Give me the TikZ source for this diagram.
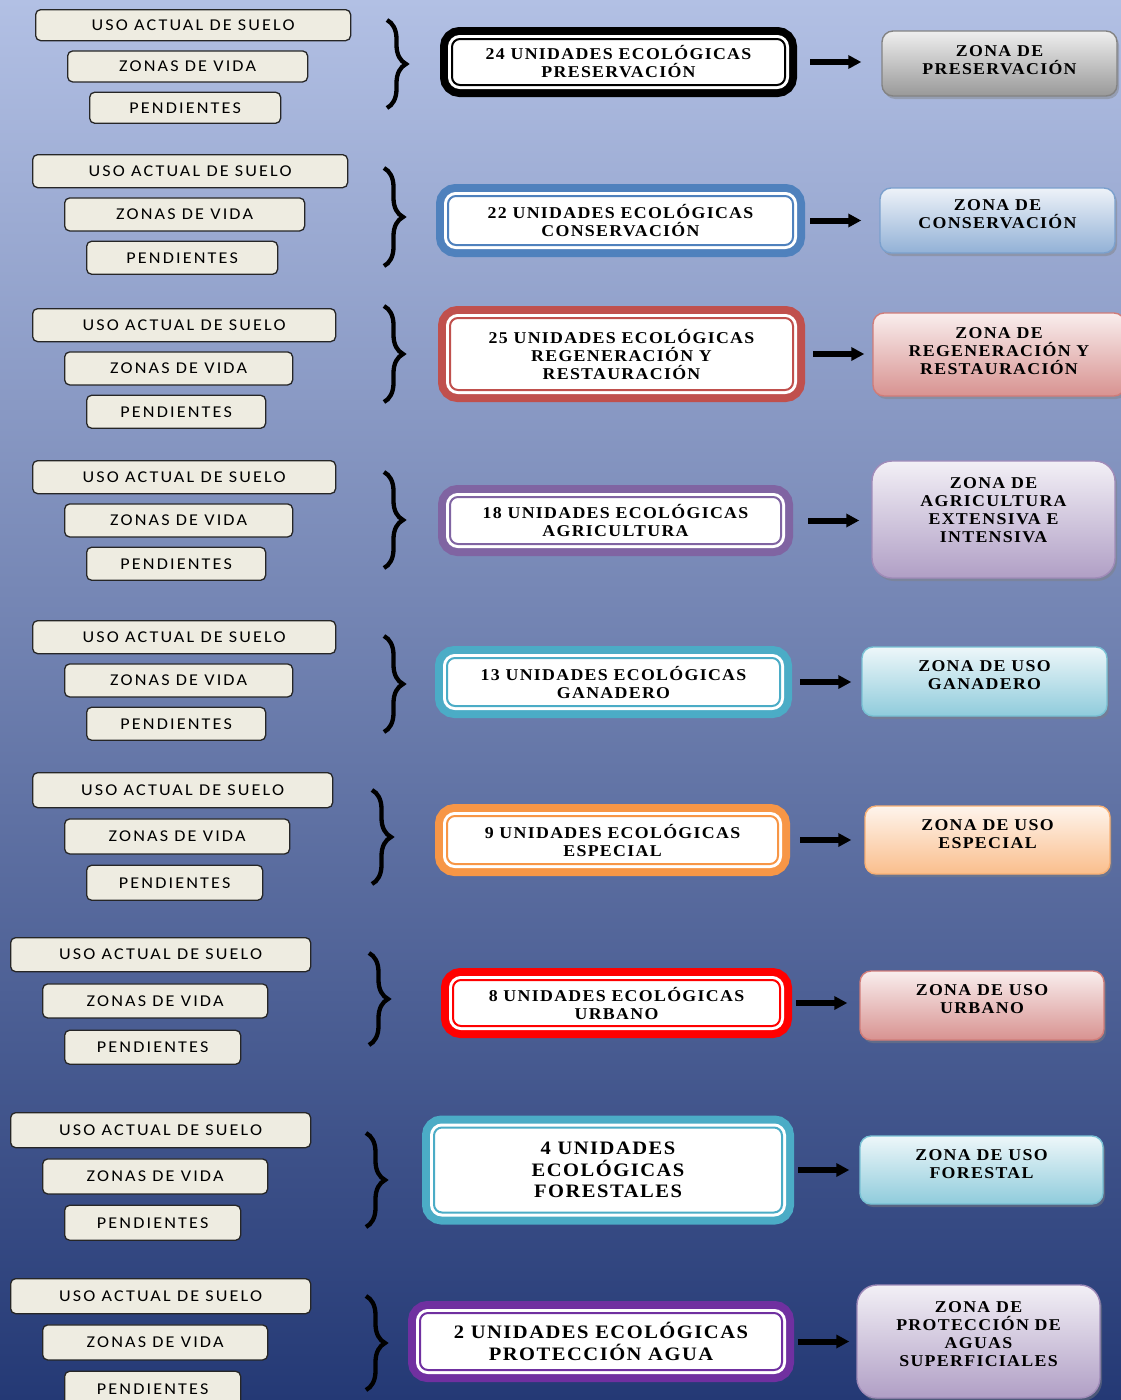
\documentclass[tikz,border=0pt]{standalone}
\usepackage{fontspec}
\setmainfont{Liberation Serif}
\newfontfamily\critfont[LetterSpace=13,FakeStretch=1.1]{Carlito}
\newfontfamily\unifont[LetterSpace=8,FakeStretch=1.08]{Liberation Serif}
\usetikzlibrary{arrows.meta,positioning,shadows,decorations.pathreplacing}
\definecolor{fondoA}{RGB}{178,192,228}
\definecolor{fondoB}{RGB}{114,134,186}
\definecolor{fondoC}{RGB}{36,57,117}
\definecolor{crema}{RGB}{238,236,225}
\definecolor{gris}{RGB}{90,90,90}
\definecolor{azulU}{RGB}{79,129,189}
\definecolor{rojoU}{RGB}{192,80,77}
\definecolor{moradoU}{RGB}{128,100,162}
\definecolor{aguaU}{RGB}{75,172,198}
\definecolor{naranjaU}{RGB}{247,150,70}
\definecolor{rojoV}{RGB}{255,0,0}
\definecolor{violetaU}{RGB}{112,48,160}
% the three criteria boxes: id, x, y (top left), width, height, gap
\newcommand{\criterios}[6]{
	\node[criterio, minimum width=#4, minimum height=#5, anchor=north west] (#1a) at (#2,#3) {USO ACTUAL DE SUELO};
	\node[criterio, minimum width=#4-75, minimum height=#5, below right=#6pt and 32pt of #1a.south west] (#1b) {ZONAS DE VIDA};
	\node[criterio, minimum width=#4-124, minimum height=#5, below right=#6pt and 22pt of #1b.south west] (#1c) {PENDIENTES};
	}
% the brace: x, top, bottom
\newcommand{\llave}[3]{
	\draw[llave] (#1,#2) -- (#1,#3);
	}

\begin{document}
\begin{tikzpicture}[
      x=1pt, y=-1pt,
      criterio/.style={draw=black!85, line width=1.3pt, fill=crema, rounded corners=5pt,
                       inner sep=0pt, font=\critfont\fontsize{16.5}{18}\selectfont},
      unidad/.style={draw=#1, line width=2pt, fill=white, rounded corners=8pt, align=center,
                     preaction={draw=#1, line width=24pt},
                     preaction={draw=white, line width=8pt},
                     font=\unifont\bfseries\fontsize{16.5}{18}\selectfont},
      zona/.style={draw=#1!75!white, line width=1.4pt, rounded corners=11pt, align=center,
                   top color=#1!10!white, bottom color=#1!62!white, text depth=12pt,
                   drop shadow={shadow xshift=2pt, shadow yshift=-3pt, opacity=.45},
                   font=\unifont\bfseries\fontsize{16.5}{18}\selectfont},
      grande/.style={font=\unifont\bfseries\fontsize{19}{21.5}\selectfont},
      flecha/.style={line width=6pt, -{Triangle[length=13pt,width=13pt]}},
      llave/.style={line width=4.3pt, decorate, decoration={brace, amplitude=19pt}}
    ]
    \useasboundingbox (0,0) rectangle (1121,1400);
    %background
    \fill[top color=fondoA, middle color=fondoB, bottom color=fondoC] (0,0) rectangle (1121,1400);
    % Preservacion
    \criterios{c1}{35}{9}{315}{31}{9}
    \llave{387}{20}{108}
    \node[unidad=black, minimum width=333, minimum height=46] (u1) at (618.5,62) {24 UNIDADES ECOLÓGICAS\\PRESERVACIÓN};
    \node[zona=gris, minimum width=235, minimum height=65, text depth=7pt] (z1) at (999.5,63.5) {ZONA DE\\PRESERVACIÓN};
    \draw[flecha, shorten <=24pt, shorten >=20pt] (u1.east) -- (u1.east -| z1.west);
    % Conservacion
    \criterios{c2}{32}{154}{315}{33}{9}
    \llave{384}{168}{266}
    \node[unidad=azulU, minimum width=345, minimum height=49] (u2) at (620.5,220.5) {22 UNIDADES ECOLÓGICAS\\CONSERVACIÓN};
    \node[zona=azulU, minimum width=235, minimum height=65] (z2) at (997.5,220.5) {ZONA DE\\CONSERVACIÓN};
    \draw[flecha, shorten <=16pt, shorten >=18pt] (u2.east) -- (u2.east -| z2.west);
    % Regeneracion
    \criterios{c3}{32}{308}{303}{33}{9}
    \llave{384}{306}{402}
    \node[unidad=rojoU, minimum width=343, minimum height=72] (u3) at (621.5,354) {25 UNIDADES ECOLÓGICAS\\REGENERACIÓN Y\\RESTAURACIÓN};
    \node[zona=rojoU, minimum width=252, minimum height=83, text depth=6pt] (z3) at (999,354.5) {ZONA DE\\REGENERACIÓN Y\\RESTAURACIÓN};
    \draw[flecha, shorten <=19pt, shorten >=8pt] (u3.east) -- (u3.east -| z3.west);
    % Agricultura
    \criterios{c4}{32}{460}{303}{33}{9}
    \llave{384}{472}{568}
    \node[unidad=moradoU, minimum width=331, minimum height=47] (u4) at (615.5,520.5) {18 UNIDADES ECOLÓGICAS\\AGRICULTURA};
    \node[zona=moradoU, rounded corners=20pt, minimum width=243, minimum height=117, text depth=19pt] (z4) at (993.5,519.5) {ZONA DE\\AGRICULTURA\\EXTENSIVA E\\INTENSIVA};
    \draw[flecha, shorten <=26pt, shorten >=12pt] (u4.east) -- (u4.east -| z4.west);
    % Ganadero
    \criterios{c5}{32}{620}{303}{33}{9}
    \llave{384}{636}{732}
    \node[unidad=aguaU, minimum width=333, minimum height=48] (u5) at (613.5,682) {13 UNIDADES ECOLÓGICAS\\GANADERO};
    \node[zona=aguaU, minimum width=245, minimum height=69] (z5) at (984.5,681.5) {ZONA DE USO\\GANADERO};
    \draw[flecha, shorten <=19pt, shorten >=10pt] (u5.east) -- (u5.east -| z5.west);
    % Especial
    \criterios{c6}{32}{772}{300}{35}{10}
    \llave{372}{790}{884}
    \node[unidad=naranjaU, minimum width=331, minimum height=48] (u6) at (612.5,840) {9 UNIDADES ECOLÓGICAS\\ESPECIAL};
    \node[zona=naranjaU, minimum width=245, minimum height=68] (z6) at (987.5,840) {ZONA DE USO\\ESPECIAL};
    \draw[flecha, shorten <=21pt, shorten >=13pt] (u6.east) -- (u6.east -| z6.west);
    % Urbano
    \criterios{c7}{10}{937}{300}{34}{11}
    \llave{369}{953}{1045}
    \node[unidad=rojoV, minimum width=327, minimum height=46] (u7) at (616.5,1003) {8 UNIDADES ECOLÓGICAS\\URBANO};
    \node[zona=rojoU, minimum width=244, minimum height=69] (z7) at (982,1005.5) {ZONA DE USO\\URBANO};
    \draw[flecha, shorten <=15pt, shorten >=12pt] (u7.east) -- (u7.east -| z7.west);
    % Forestal
    \criterios{c8}{10}{1112}{300}{35}{10}
    \llave{366}{1133}{1227}
    \node[unidad=aguaU, grande, minimum width=348, minimum height=85] (u8) at (608,1170) {4 UNIDADES\\ECOLÓGICAS\\FORESTALES};
    \node[zona=aguaU, minimum width=243, minimum height=68] (z8) at (981.5,1170) {ZONA DE USO\\FORESTAL};
    \draw[flecha, shorten <=15pt, shorten >=10pt] (u8.east) -- (u8.east -| z8.west);
    % Proteccion agua
    \criterios{c9}{10}{1278}{300}{35}{10}
    \llave{366}{1296}{1390}
    \node[unidad=violetaU, grande, minimum width=362, minimum height=57] (u9) at (601,1341.5) {2 UNIDADES ECOLÓGICAS\\PROTECCIÓN AGUA};
    \node[zona=moradoU, rounded corners=20pt, minimum width=243, minimum height=113, text depth=14pt] (z9) at (978.5,1341.5) {ZONA DE\\PROTECCIÓN DE\\AGUAS\\SUPERFICIALES};
    \draw[flecha, shorten <=15pt, shorten >=7pt] (u9.east) -- (u9.east -| z9.west);
\end{tikzpicture}
\end{document}
